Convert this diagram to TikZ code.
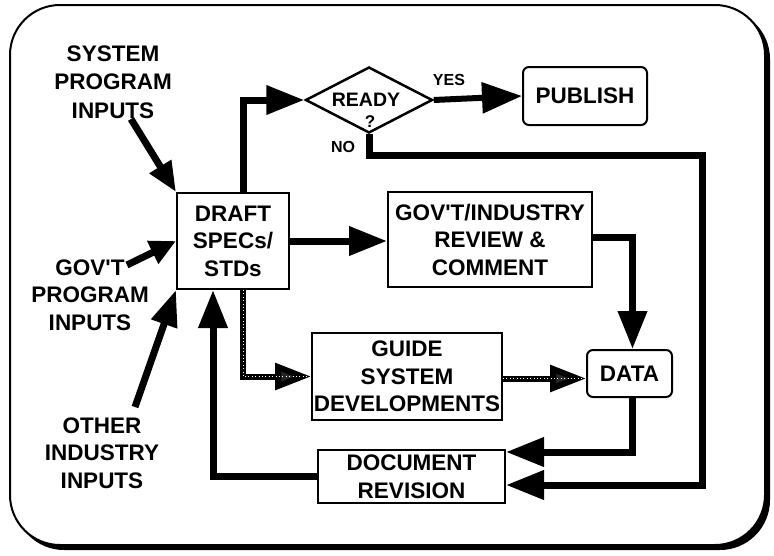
\documentclass[tikz,border=0pt]{standalone}
\usepackage{fontspec}
\setmainfont{Liberation Sans}[Ligatures=TeXOff]
\usetikzlibrary{shapes.geometric,arrows.meta,calc}

\tikzset{
  txt/.style={font=\bfseries\fontsize{22.5}{27.5}\selectfont, align=center, inner sep=0pt},
  small/.style={font=\bfseries\fontsize{16}{18}\selectfont, inner sep=0pt},
  box/.style={txt, draw, line width=2pt},
  rbox/.style={box, rounded corners=6pt},
  flow/.style={line width=7pt, -{Triangle[length=38pt,width=28pt]}},
  feed/.style={line width=7pt, -{Triangle[length=30pt,width=24pt]}},
  hatch/.style={line width=6pt, -{Triangle[length=36pt,width=26pt,fill=black!85]},
    postaction={draw=white, line width=0.7pt, dash pattern=on 0.8pt off 2.6pt, -}},
}

\begin{document}
\begin{tikzpicture}[x=1pt,y=-1pt]
\useasboundingbox (0,0) rectangle (774,555);

% outer frame with offset shadow
\fill[black, rounded corners=50pt] (14,9) rectangle (770,550);
\draw[fill=white, line width=2pt, rounded corners=50pt] (10,5) rectangle (765,545);

% process boxes
\node[box, minimum width=112pt, minimum height=96pt] (draft) at (233,241) {DRAFT\\SPECs/\\STDs};
\node[draw, line width=2.5pt, diamond, minimum width=127pt, minimum height=66pt, inner sep=0pt] (ready) at (369,100) {};
\node[txt, font=\bfseries\fontsize{19.5}{22}\selectfont] (readyt) at (366,100) {READY};
\node[txt, font=\bfseries\fontsize{17}{18}\selectfont] (q) at (370,122) {?};
\node[rbox, minimum width=124pt, minimum height=58pt] (publish) at (585,96) {PUBLISH};
\node[box, minimum width=204pt, minimum height=95pt] (gov) at (490,239.5) {GOV'T/INDUSTRY\\REVIEW \&\\COMMENT};
\node[box, minimum width=190pt, minimum height=87pt] (guide) at (407,376.5) {GUIDE\\SYSTEM\\DEVELOPMENTS};
\node[rbox, minimum width=85pt, minimum height=47pt] (data) at (629.5,373.5) {DATA};
\node[box, minimum width=187pt, minimum height=53pt] (doc) at (411.5,476.5) {DOCUMENT\\REVISION};

% input labels
\node[txt, font=\bfseries\fontsize{22.5}{28.5}\selectfont] (sysin) at (113,82) {SYSTEM\\PROGRAM\\INPUTS};
\node[txt] (govin) at (90,295) {GOV'T\\PROGRAM\\INPUTS};
\node[txt] (othin) at (102,453) {OTHER\\INDUSTRY\\INPUTS};

% tails of the input arrows
\coordinate (sysT) at (131,119);
\coordinate (govT) at (127,265);
\coordinate (othT) at (135,407);
% corners of the NO loop
\coordinate (noR) at (702,155);
\coordinate (noB) at (702,485);

% inputs
\draw[feed] (sysT) -- (draft.north west);
\draw[feed, -{Triangle[length=26pt,width=24pt]}] (govT) -- (draft.west);
\draw[feed, -{Triangle[length=36pt,width=26pt]}] (othT) -- (draft.south west);

% main flow
\draw[flow] ([xshift=10pt]draft.north) |- (ready.west);
\draw[line width=6pt, -{Triangle[length=40pt,width=30pt]}] (ready.east) -- (publish.west);
\node[small] (yes) at (449,80) {YES};
\draw[flow] (ready.south) |- (noR) -- (noB) -- (doc.east |- noB);
\node[small] (no) at (343,147) {NO};
\draw[flow] (draft.east) -- (draft.east -| gov.west);
\draw[flow] ([yshift=2pt]gov.east) -| ([xshift=3pt]data.north);
\draw[flow] ([xshift=3pt]data.south) |- ([yshift=24.5pt]doc.east);
\draw[flow] (doc.west) -| ([xshift=-20pt]draft.south);

% guidance flow
\draw[hatch] ([xshift=10pt]draft.south) |- (guide.west);
\draw[hatch] ([yshift=-2pt]guide.east) -- ([yshift=-2pt]guide.east -| data.west);
\end{tikzpicture}
\end{document}
